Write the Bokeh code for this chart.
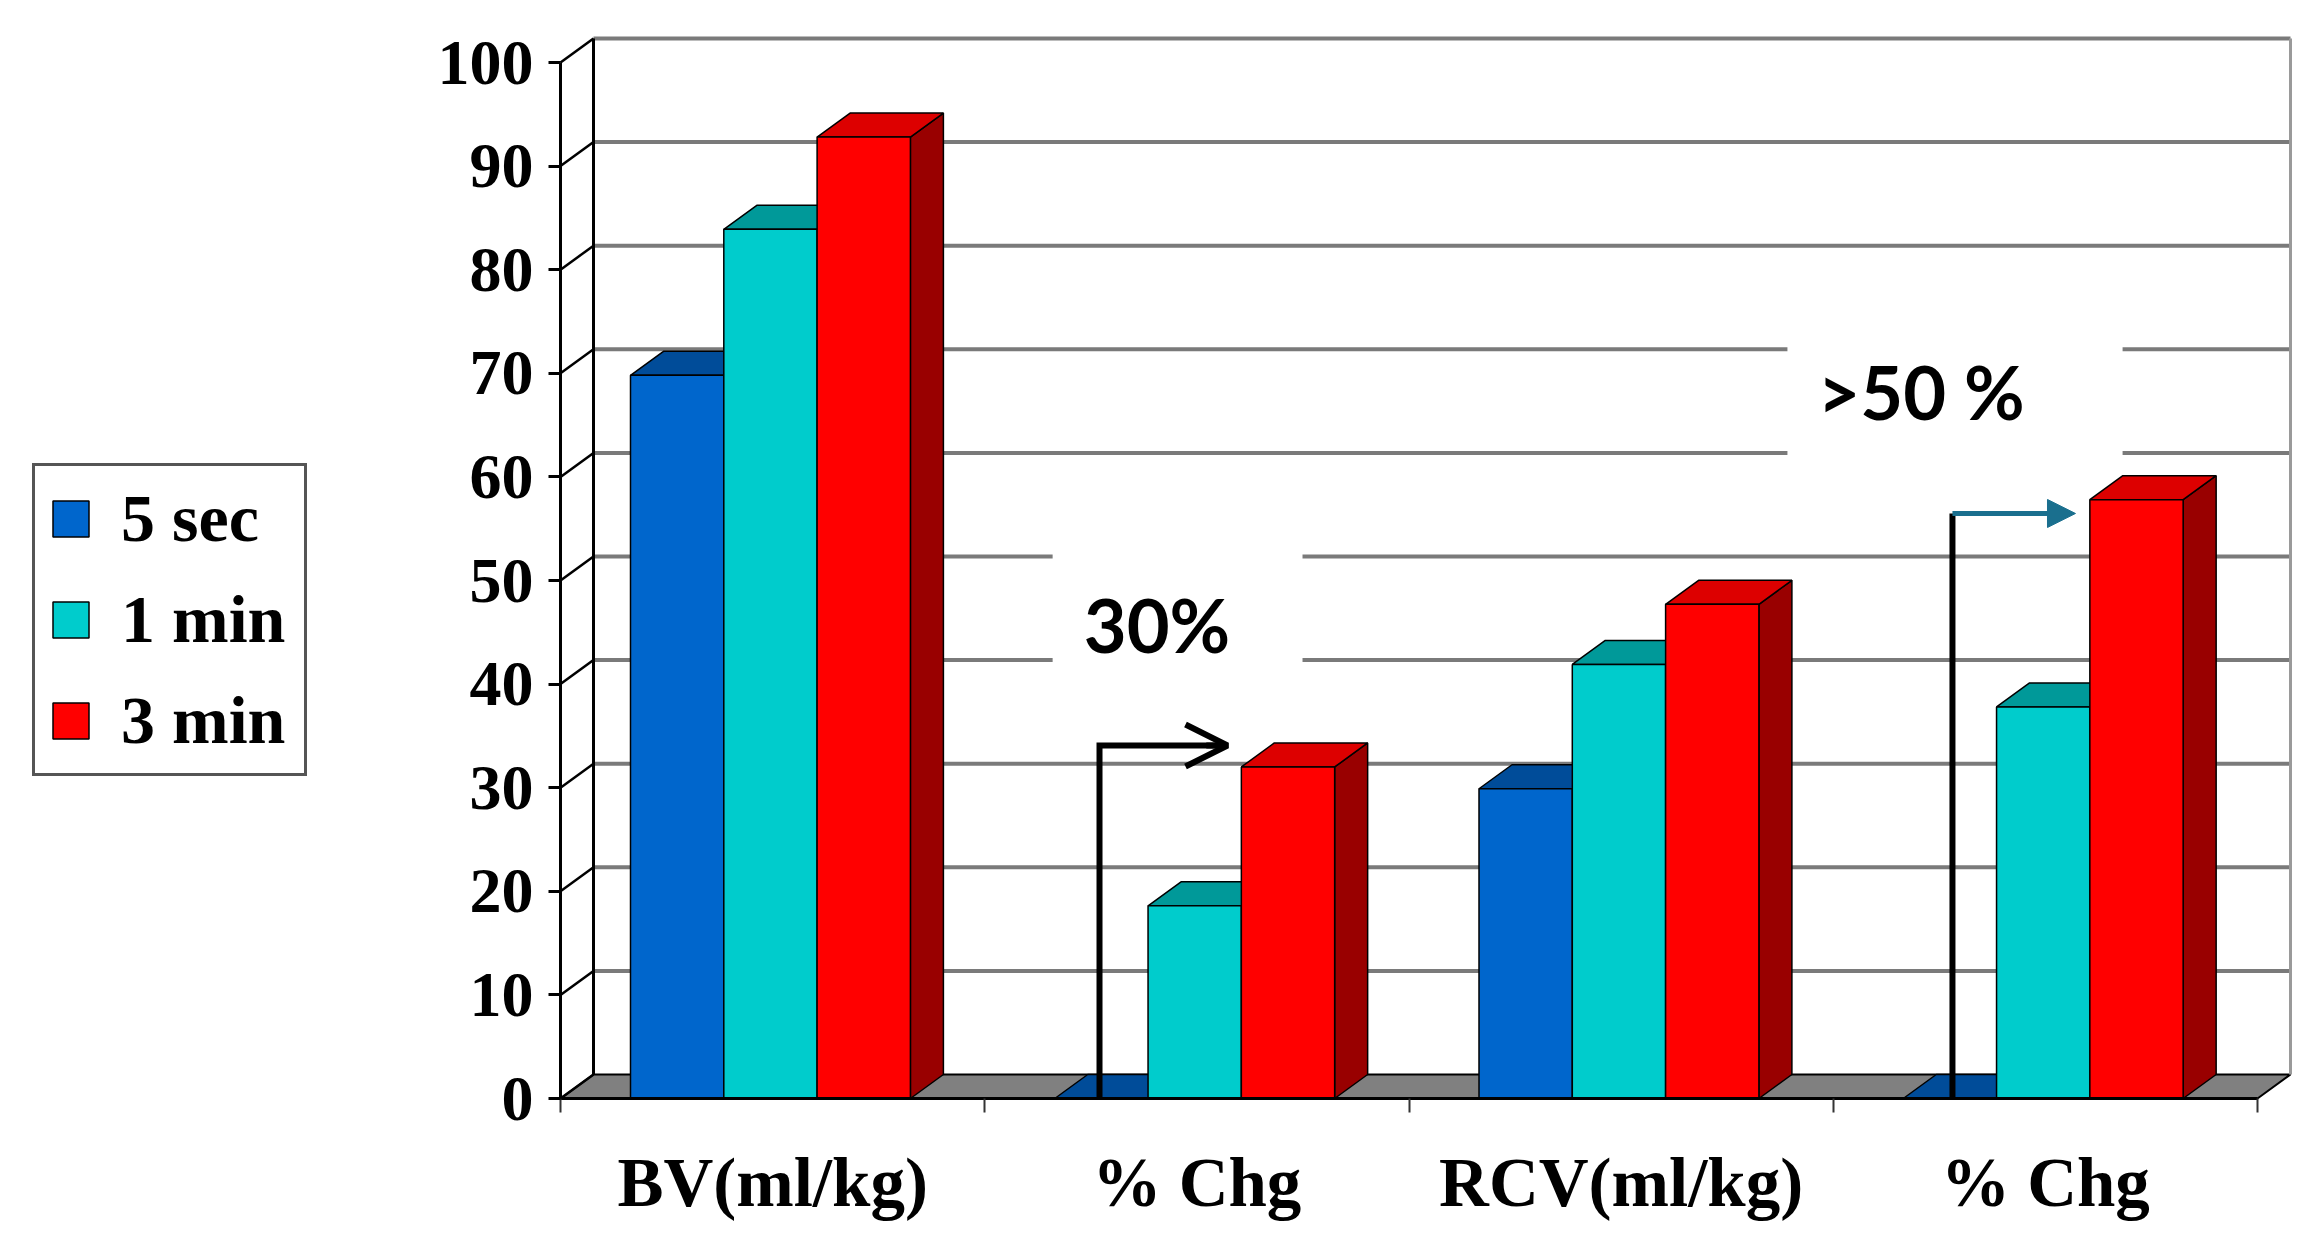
from bokeh.plotting import figure
from bokeh.models import (Range1d, FixedTicker, Legend, LegendItem, Label,
                          Arrow, OpenHead, NormalHead)
from bokeh.embed import file_html
from bokeh.resources import INLINE

# ---------------- data ----------------
categories = ["BV(ml/kg)", "% Chg", "RCV(ml/kg)", "% Chg"]
series_names = ["5 sec", "1 min", "3 min"]
sec5 = [69.8, 0.0, 29.9, 0.0]
min1 = [83.9, 18.6, 41.9, 37.8]
min3 = [92.8, 32.0, 47.7, 57.8]
y_ticks = [0, 10, 20, 30, 40, 50, 60, 70, 80, 90, 100]
note_texts = ["30%", ">50 %"]

# ---------------- style / layout ----------------
W, H = 2300, 1234
PX_X = 424.25          # pixels per category
PX_Y = 10.36           # pixels per value unit
X0_PX, Y0_PX = 560, 1098   # position of data origin inside the figure
DX = 33 / PX_X         # depth offset (oblique 3D)
DY = 24 / PX_Y
BAR_W = 93.3 / PX_X
GROUP_OFF = 70 / PX_X

front_col = ["#0066CC", "#00CCCC", "#FF0000"]
top_col = ["#004C99", "#009999", "#DD0000"]
side_col = ["#003A75", "#007A7A", "#990000"]
SERIF = "Liberation Serif"

x_start = -X0_PX / PX_X
y_end = Y0_PX / PX_Y
p = figure(width=W, height=H,
           x_range=Range1d(x_start, x_start + W / PX_X),
           y_range=Range1d(y_end - H / PX_Y, y_end),
           output_backend="svg", toolbar_location=None, min_border=0)
p.outline_line_color = None
p.grid.visible = False
p.background_fill_color = "white"

n = len(categories)
top_val = y_ticks[-1]

# floor
p.patch([0, n, n + DX, DX], [0, 0, DY, DY], fill_color="#808080",
        line_color="black", line_width=2)

# back wall gridlines
p.multi_line([[DX, n + DX] for v in y_ticks[1:]],
             [[v + DY, v + DY] for v in y_ticks[1:]],
             line_color="#7a7a7a", line_width=4)
# left wall diagonals
p.multi_line([[0, DX] for v in y_ticks], [[v, v + DY] for v in y_ticks],
             line_color="black", line_width=2.5)
p.line([DX, DX], [DY, top_val + DY], line_color="black", line_width=3)
p.line([n + DX, n + DX], [DY, top_val + DY], line_color="#9a9a9a", line_width=3)

# white boxes behind the annotation texts (hide gridlines)
p.quad(left=[1.16, 2.892], right=[1.749, 3.682], bottom=[38.4, 57.7],
       top=[55.8, 77.0], fill_color="white", line_color=None)

# 3D bars
values = [sec5, min1, min3]
fronts = []
for j, vals in enumerate(values):
    lefts = [i + GROUP_OFF + j * BAR_W for i in range(n)]
    rights = [l + BAR_W for l in lefts]
    p.patches([[r, r + DX, r + DX, r] for r in rights],
              [[0, DY, v + DY, v] for v in vals],
              fill_color=side_col[j], line_color="black", line_width=1.5)
    p.patches([[l, r, r + DX, l + DX] for l, r in zip(lefts, rights)],
              [[v, v, v + DY, v + DY] for v in vals],
              fill_color=top_col[j], line_color="black", line_width=1.5)
    fr = p.quad(left=lefts, right=rights, bottom=[0] * n, top=vals,
                fill_color=front_col[j], line_color="black", line_width=1.5)
    fronts.append(fr)

# axes (drawn at the front plane)
yax = p.yaxis[0]
yax.fixed_location = 0
yax.bounds = (0, top_val)
yax.ticker = FixedTicker(ticks=y_ticks)
yax.axis_line_color = "black"
yax.axis_line_width = 3
yax.major_tick_out = 12
yax.major_tick_in = 0
yax.major_tick_line_width = 3
yax.minor_tick_line_color = None
yax.major_label_text_font = SERIF
yax.major_label_text_font_style = "bold"
yax.major_label_text_font_size = "64px"
yax.major_label_text_color = "black"
yax.major_label_standoff = 15

xax = p.xaxis[0]
xax.fixed_location = 0
xax.bounds = (0, n)
xax.ticker = FixedTicker(ticks=[i + 0.5 for i in range(n)],
                         minor_ticks=list(range(n + 1)))
xax.major_label_overrides = {i + 0.5: c for i, c in enumerate(categories)}
xax.axis_line_color = "black"
xax.axis_line_width = 3
xax.major_tick_out = 0
xax.major_tick_in = 0
xax.major_tick_line_color = None
xax.minor_tick_out = 14
xax.minor_tick_in = 0
xax.minor_tick_line_color = "#333333"
xax.minor_tick_line_width = 2
xax.major_label_text_font = SERIF
xax.major_label_text_font_style = "bold"
xax.major_label_text_font_size = "69px"
xax.major_label_text_color = "black"
xax.major_label_standoff = 32

# annotation texts
p.add_layout(Label(x=1.406, y=45.75, text=note_texts[0], text_align="center",
                   text_baseline="middle", text_font="Lato",
                   text_font_style="bold", text_font_size="74px",
                   text_color="black"))
p.add_layout(Label(x=3.207, y=68.24, text=note_texts[1], text_align="center",
                   text_baseline="middle", text_font="Lato",
                   text_font_style="bold", text_font_size="74px",
                   text_color="black"))

# arrows
a1x, a1y, a1e = 1.2705, 34.07, 1.5722
p.line([a1x, a1x, a1e - 0.01], [0, a1y, a1y], line_color="black",
       line_width=6, line_join="miter")
p.add_layout(Arrow(end=OpenHead(size=42, line_width=6, line_color="black"),
                   x_start=a1e - 0.05, y_start=a1y, x_end=a1e, y_end=a1y,
                   line_color="black", line_width=6))
a2x, a2y, a2e = 3.281, 56.47, 3.571
teal = "#1A6F8E"
p.line([a2x, a2x], [0, a2y], line_color="black", line_width=6)
p.add_layout(Arrow(end=NormalHead(size=28, fill_color=teal, line_color=teal,
                                  line_width=1),
                   x_start=a2x, y_start=a2y, x_end=a2e, y_end=a2y,
                   line_color=teal, line_width=5))

# legend
legend = Legend(items=[LegendItem(label=s, renderers=[fr])
                       for s, fr in zip(series_names, fronts)],
                location=(32, H - 776), orientation="vertical")
legend.glyph_width = 45
legend.glyph_height = 45
legend.label_standoff = 28
legend.label_width = 170
legend.padding = 13
legend.spacing = 22
legend.margin = 0
legend.label_text_font = SERIF
legend.label_text_font_style = "bold"
legend.label_text_font_size = "68px"
legend.label_text_color = "black"
legend.border_line_color = "#555555"
legend.border_line_alpha = 1.0
legend.border_line_width = 3
legend.background_fill_color = "white"
legend.background_fill_alpha = 1.0
p.add_layout(legend)

open("out.html", "w").write(file_html(p, INLINE))
